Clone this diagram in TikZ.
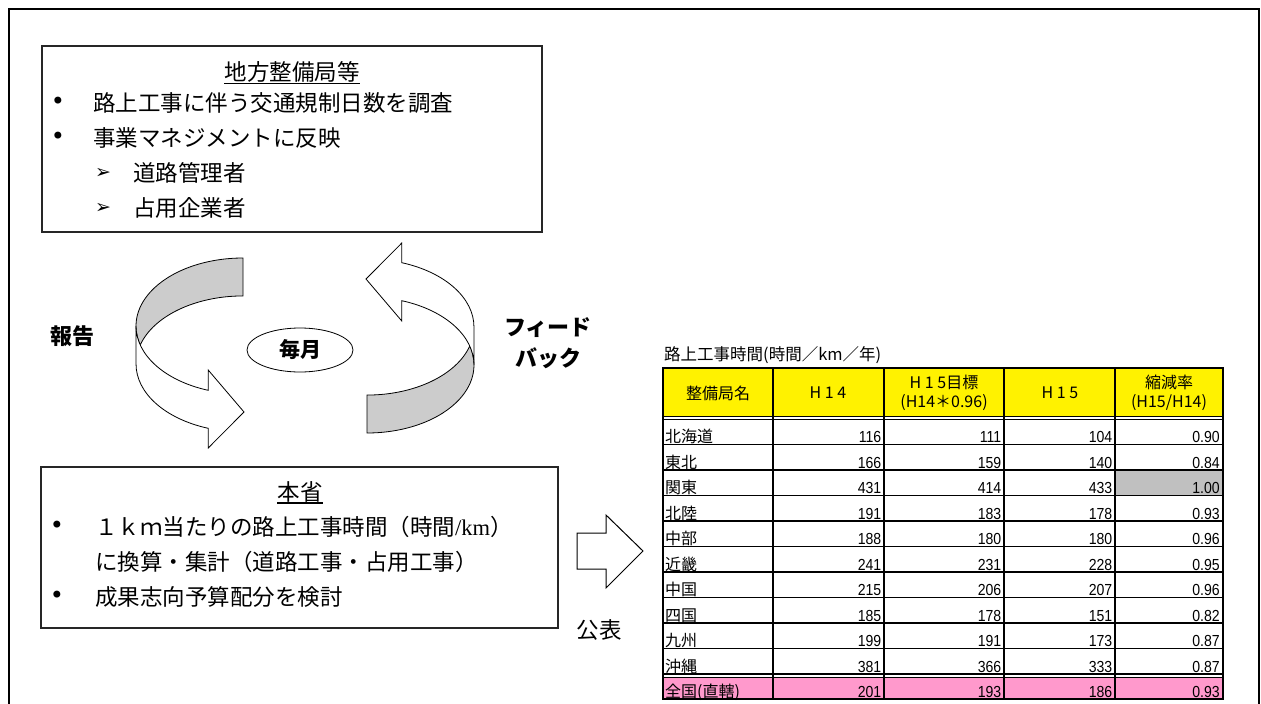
\documentclass[tikz,border=0pt]{standalone}
\usepackage{fontspec}
\setmainfont{Noto Sans CJK JP}
\newfontfamily\sym{DejaVu Sans}
\newfontfamily\tms{Liberation Serif}
\newfontfamily\numfont{Liberation Sans}[FakeStretch=0.88]
\usetikzlibrary{shapes.geometric}

\definecolor{rowpink}{RGB}{255,153,204}
\definecolor{cellgray}{RGB}{192,192,192}
\definecolor{ribbongray}{RGB}{204,204,204}

\tikzset{
  box/.style={draw=black!85, line width=1.2pt},
  titletext/.style={inner sep=0pt, font=\fontsize{22.5}{26}\selectfont},
  itemtext/.style={anchor=west, inner sep=0pt, font=\fontsize{22.5}{26}\selectfont},
  bulletmark/.style={inner sep=0pt, font=\sym\fontsize{24}{26}\selectfont},
  subarrow/.style={anchor=west, inner sep=0pt, font=\sym\fontsize{19}{21}\selectfont},
  boldtext/.style={inner sep=0pt, align=center, font=\bfseries\fontsize{22}{31}\selectfont},
  ribbon/.style={draw=black, line width=0.8pt},
  headcell/.style={inner sep=0pt, align=center, font=\fontsize{16}{19}\selectfont},
  namecell/.style={anchor=base west, inner sep=0pt, font=\fontsize{16}{18}\selectfont},
  numcell/.style={anchor=base east, inner sep=0pt, font=\numfont\fontsize{16}{18}\selectfont},
  rule/.style={line width=1.5pt}
}

\begin{document}
\begin{tikzpicture}[x=1pt, y=1pt]
\useasboundingbox (0,0) rectangle (1261,-704);
\draw[line width=1.6pt] (9,-9) rectangle (1259,-740);

% upper box
\draw[box] (42,-46) rectangle (542,-232);
\node (kyoku)[titletext] at (292,-72) {地方整備局等};
\draw[line width=1.2pt] ([yshift=-0.5pt]kyoku.south west) -- ([yshift=-0.5pt]kyoku.south east);
\node (b1)[bulletmark] at (58,-103) {•};
\node (k1)[itemtext] at (93,-103) {路上工事に伴う交通規制日数を調査};
\node (b2)[bulletmark] at (58,-138) {•};
\node (k2)[itemtext] at (93,-138) {事業マネジメントに反映};
\node (m1)[subarrow] at (95,-173) {➢};
\node (k3)[itemtext] at (133,-173) {道路管理者};
\node (m2)[subarrow] at (95,-208) {➢};
\node (k4)[itemtext] at (133,-208) {占用企業者};

% ribbons
\filldraw[ribbon, fill=ribbongray] (243,-258) arc[start angle=90, end angle=196.2, x radius=107, y radius=68]
  arc[start angle=163.8, end angle=90, x radius=107, y radius=68] -- cycle;
\filldraw[ribbon, fill=white] (136,-326) arc[start angle=180, end angle=251, x radius=107, y radius=68]
  -- (208.2,-370) -- (244,-412) -- (208.2,-448) -- (208.2,-428.3)
  arc[start angle=251, end angle=180, x radius=107, y radius=68] -- cycle;
\begin{scope}[rotate around={180:(305,-345.5)}]
\filldraw[ribbon, fill=ribbongray] (243,-258) arc[start angle=90, end angle=196.2, x radius=107, y radius=68]
  arc[start angle=163.8, end angle=90, x radius=107, y radius=68] -- cycle;
\filldraw[ribbon, fill=white] (136,-326) arc[start angle=180, end angle=251, x radius=107, y radius=68]
  -- (208.2,-370) -- (244,-412) -- (208.2,-448) -- (208.2,-428.3)
  arc[start angle=251, end angle=180, x radius=107, y radius=68] -- cycle;
\end{scope}
\node (maitsuki)[draw, ellipse, line width=0.8pt, minimum width=106pt, minimum height=44pt, inner sep=0pt,
  font=\bfseries\fontsize{21}{25}\selectfont] at (300,-350) {毎月};
\node (houkoku)[boldtext] at (72,-336) {報告};
\node (fb)[boldtext] at (548,-343) {フィード\\バック};

% lower box
\draw[box] (41,-467) rectangle (558,-628);
\node (honsho)[titletext] at (300,-492) {本省};
\draw[line width=1.2pt] ([yshift=-0.5pt]honsho.south west) -- ([yshift=-0.5pt]honsho.south east);
\node (b3)[bulletmark] at (57,-527) {•};
\node (h1)[itemtext] at (95,-527) {１ｋｍ当たりの路上工事時間（時間{\tms /km}）};
\node (h2)[itemtext] at (95,-562) {に換算・集計（道路工事・占用工事）};
\node (b4)[bulletmark] at (57,-597) {•};
\node (h3)[itemtext] at (95,-597) {成果志向予算配分を検討};

% publish arrow
\draw[ribbon, line width=1pt] (577,-533) -- (606,-533) -- (606,-515) -- (643,-551)
  -- (606,-588) -- (606,-569) -- (577,-569) -- cycle;
\node (kohyo)[titletext] at (599,-630) {公表};

% table
\node (ttl)[anchor=west, inner sep=0pt, font=\fontsize{16.5}{18}\selectfont] at (664,-355) {路上工事時間(時間／km／年)};
\fill[yellow] (663,-368) rectangle (1223,-416);
\fill[cellgray] (1115,-470) rectangle (1223,-495.5);
\fill[rowpink] (663,-677.5) rectangle (1223,-699);
\draw[rule] (663,-416.3) -- (1223,-416.3);
\draw[rule] (663,-419.7) -- (1223,-419.7);
\draw[rule] (663,-444.5) -- (1223,-444.5);
\draw[rule] (663,-470) -- (1223,-470);
\draw[rule] (663,-495.5) -- (1223,-495.5);
\draw[rule] (663,-521) -- (1223,-521);
\draw[rule] (663,-546.5) -- (1223,-546.5);
\draw[rule] (663,-572) -- (1223,-572);
\draw[rule] (663,-597.5) -- (1223,-597.5);
\draw[rule] (663,-623) -- (1223,-623);
\draw[rule] (663,-648.5) -- (1223,-648.5);
\draw[rule] (663,-674) -- (1223,-674);
\draw[rule] (663,-677.5) -- (1223,-677.5);
\draw[rule] (773,-368) -- (773,-699);
\draw[rule] (884,-368) -- (884,-699);
\draw[rule] (1004,-368) -- (1004,-699);
\draw[rule] (1115,-368) -- (1115,-699);
\draw[line width=2.4pt] (663,-368) rectangle (1223,-699);

\node (c1)[headcell] at (718,-393) {整備局名};
\node (c2)[headcell] at (828,-393) {H 1 4};
\node (c3)[headcell] at (944,-393) {H 1 5目標\\(H14＊0.96)};
\node (c4)[headcell] at (1060,-393) {H 1 5};
\node (c5)[headcell] at (1169,-393) {縮減率\\(H15/H14)};

\node (n1)[namecell] at (665,-442.5) {北海道}; \node (u1)[numcell] at (881.5,-442.5) {116}; \node (v1)[numcell] at (1001.5,-442.5) {111}; \node (w1)[numcell] at (1112.5,-442.5) {104}; \node (z1)[numcell] at (1220,-442.5) {0.90};
\node (n2)[namecell] at (665,-468) {東北}; \node (u2)[numcell] at (881.5,-468) {166}; \node (v2)[numcell] at (1001.5,-468) {159}; \node (w2)[numcell] at (1112.5,-468) {140}; \node (z2)[numcell] at (1220,-468) {0.84};
\node (n3)[namecell] at (665,-493.5) {関東}; \node (u3)[numcell] at (881.5,-493.5) {431}; \node (v3)[numcell] at (1001.5,-493.5) {414}; \node (w3)[numcell] at (1112.5,-493.5) {433}; \node (z3)[numcell] at (1220,-493.5) {1.00};
\node (n4)[namecell] at (665,-519) {北陸}; \node (u4)[numcell] at (881.5,-519) {191}; \node (v4)[numcell] at (1001.5,-519) {183}; \node (w4)[numcell] at (1112.5,-519) {178}; \node (z4)[numcell] at (1220,-519) {0.93};
\node (n5)[namecell] at (665,-544.5) {中部}; \node (u5)[numcell] at (881.5,-544.5) {188}; \node (v5)[numcell] at (1001.5,-544.5) {180}; \node (w5)[numcell] at (1112.5,-544.5) {180}; \node (z5)[numcell] at (1220,-544.5) {0.96};
\node (n6)[namecell] at (665,-570) {近畿}; \node (u6)[numcell] at (881.5,-570) {241}; \node (v6)[numcell] at (1001.5,-570) {231}; \node (w6)[numcell] at (1112.5,-570) {228}; \node (z6)[numcell] at (1220,-570) {0.95};
\node (n7)[namecell] at (665,-595.5) {中国}; \node (u7)[numcell] at (881.5,-595.5) {215}; \node (v7)[numcell] at (1001.5,-595.5) {206}; \node (w7)[numcell] at (1112.5,-595.5) {207}; \node (z7)[numcell] at (1220,-595.5) {0.96};
\node (n8)[namecell] at (665,-621) {四国}; \node (u8)[numcell] at (881.5,-621) {185}; \node (v8)[numcell] at (1001.5,-621) {178}; \node (w8)[numcell] at (1112.5,-621) {151}; \node (z8)[numcell] at (1220,-621) {0.82};
\node (n9)[namecell] at (665,-646.5) {九州}; \node (u9)[numcell] at (881.5,-646.5) {199}; \node (v9)[numcell] at (1001.5,-646.5) {191}; \node (w9)[numcell] at (1112.5,-646.5) {173}; \node (z9)[numcell] at (1220,-646.5) {0.87};
\node (n10)[namecell] at (665,-672) {沖縄}; \node (u10)[numcell] at (881.5,-672) {381}; \node (v10)[numcell] at (1001.5,-672) {366}; \node (w10)[numcell] at (1112.5,-672) {333}; \node (z10)[numcell] at (1220,-672) {0.87};
\node (n11)[namecell] at (665,-697) {全国(直轄)}; \node (u11)[numcell] at (881.5,-697) {201}; \node (v11)[numcell] at (1001.5,-697) {193}; \node (w11)[numcell] at (1112.5,-697) {186}; \node (z11)[numcell] at (1220,-697) {0.93};
\end{tikzpicture}
\end{document}
